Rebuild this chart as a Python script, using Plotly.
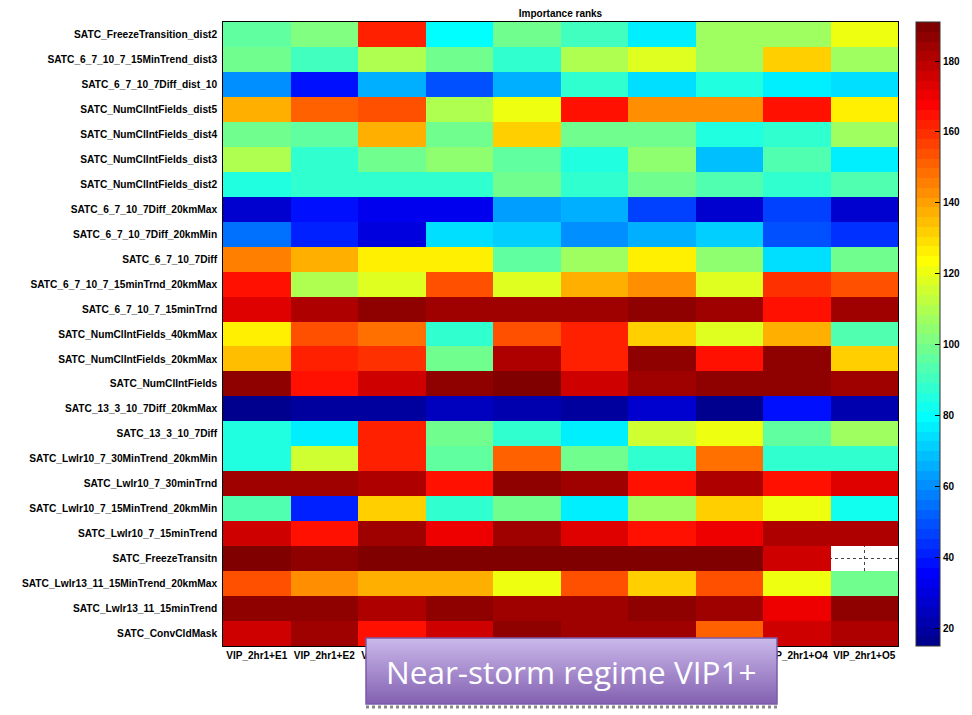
import numpy as np
import plotly.graph_objects as go

rows = [
    "SATC_FreezeTransition_dist2",
    "SATC_6_7_10_7_15MinTrend_dist3",
    "SATC_6_7_10_7Diff_dist_10",
    "SATC_NumClIntFields_dist5",
    "SATC_NumClIntFields_dist4",
    "SATC_NumClIntFields_dist3",
    "SATC_NumClIntFields_dist2",
    "SATC_6_7_10_7Diff_20kmMax",
    "SATC_6_7_10_7Diff_20kmMin",
    "SATC_6_7_10_7Diff",
    "SATC_6_7_10_7_15minTrnd_20kmMax",
    "SATC_6_7_10_7_15minTrnd",
    "SATC_NumClIntFields_40kmMax",
    "SATC_NumClIntFields_20kmMax",
    "SATC_NumClIntFields",
    "SATC_13_3_10_7Diff_20kmMax",
    "SATC_13_3_10_7Diff",
    "SATC_Lwlr10_7_30MinTrend_20kmMin",
    "SATC_Lwlr10_7_30minTrnd",
    "SATC_Lwlr10_7_15MinTrend_20kmMin",
    "SATC_Lwlr10_7_15minTrend",
    "SATC_FreezeTransitn",
    "SATC_Lwlr13_11_15MinTrend_20kmMax",
    "SATC_Lwlr13_11_15minTrend",
    "SATC_ConvCldMask",
]

cols = ["VIP_2hr1+E1", "VIP_2hr1+E2", "VIP_2hr1+E3", "VIP_2hr1+E4", "VIP_2hr1+E5",
        "VIP_2hr1+O1", "VIP_2hr1+O2", "VIP_2hr1+O3", "VIP_2hr1+O4", "VIP_2hr1+O5"]

ranks = [
    [96, 101, 161, 80, 98, 91, 78, 108, 107, 119.5],
    [100, 91, 111, 100, 89, 111, 117, 108, 131, 106],
    [59, 38, 65, 50, 65, 86.5, 73, 84, 76, 73],
    [138, 151, 152.5, 111, 119.5, 166, 144, 141.5, 166, 127],
    [100, 96, 136, 100, 133, 100, 99, 84, 89, 108],
    [111, 89, 97.5, 103, 97, 84, 104, 68, 93, 76],
    [84, 86.5, 89, 89, 100, 86.5, 97.5, 92, 86.5, 92],
    [27, 37, 34, 33, 62, 65, 47, 26, 47, 28],
    [54, 42, 31, 73, 70, 59, 65, 70, 50, 45],
    [145, 136, 125, 125, 96, 106, 127, 103, 73, 97.5],
    [166, 110, 118, 152.5, 117, 138, 144, 117, 158, 152.5],
    [172, 180, 188, 183, 183, 183, 185.5, 183, 163.5, 183],
    [125, 155, 147, 89, 155, 161, 130.5, 117, 138, 93],
    [134.5, 161, 158, 100, 180, 161, 185.5, 163.5, 185.5, 130.5],
    [188, 163.5, 177, 188, 191, 177, 183, 188, 185.5, 183],
    [16, 20, 20, 24, 21, 18, 26, 17, 37, 22],
    [84, 78, 161, 98, 89, 78, 114, 119.5, 96, 108],
    [84, 114, 161, 96, 150, 97.5, 86.5, 147, 86.5, 86.5],
    [183, 183, 180, 166, 188, 183, 163.5, 180, 166, 172],
    [92, 40, 130.5, 86.5, 98, 78, 106, 130.5, 119.5, 81],
    [177, 166, 183, 169, 183, 173, 166, 169, 180, 180],
    [191, 185.5, 191, 191, 191, 191, 191, 191, 177, None],
    [152.5, 141.5, 138, 138, 119.5, 152.5, 133, 155, 122, 97.5],
    [188, 185.5, 180, 185.5, 183, 183, 185.5, 183, 169, 185.5],
    [174.5, 183, 163.5, 174.5, 185.5, 183, 183, 150, 174.5, 180],
]

cbar_ticks = [20, 40, 60, 80, 100, 120, 140, 160, 180]
zmin, zmax = 15, 191
title_text = "Importance ranks"
banner_text = "Near-storm regime VIP1+"


def jet(t):
    r = min(max(min(4 * t - 1.5, -4 * t + 4.5), 0), 1)
    g = min(max(min(4 * t - 0.5, -4 * t + 3.5), 0), 1)
    b = min(max(min(4 * t + 0.5, -4 * t + 2.5), 0), 1)
    return "rgb(%d,%d,%d)" % (round(r * 255), round(g * 255), round(b * 255))


n = 64
colorscale = []
for i in range(n):
    c = jet((i + 1) / n)
    colorscale.append([i / n, c])
    colorscale.append([(i + 1) / n, c])

z = np.array([[np.nan if v is None else v for v in r] for r in ranks], dtype=float)

bold = dict(family="Liberation Sans", size=10, color="black", weight="bold")
bold_y = dict(family="Liberation Sans", size=10.2, color="black", weight="bold")

L, R, T, B = 223, 898, 22, 646
PW, PH = R - L, B - T

fig = go.Figure(go.Heatmap(
    z=z, x=cols, y=rows, colorscale=colorscale, zmin=zmin, zmax=zmax,
    hoverongaps=False,
    colorbar=dict(
        x=(916 - L) / PW, xanchor="left", xpad=0, ypad=0,
        y=0.5, yanchor="middle", len=1, lenmode="fraction",
        thickness=24, outlinewidth=1, outlinecolor="#333",
        tickvals=cbar_ticks, ticks="inside", ticklen=5, tickcolor="black",
        tickfont=bold,
    ),
))

fig.update_layout(
    width=972, height=715,
    margin=dict(l=L, r=972 - R, t=T, b=715 - B, autoexpand=False),
    paper_bgcolor="white", plot_bgcolor="white",
    title=dict(text=title_text, x=(L + R) / 2 / 972, xanchor="center",
               y=1 - 13 / 715, yanchor="middle", font=bold),
    xaxis=dict(showgrid=True, gridcolor="#444", griddash="dot", gridwidth=1,
               tickfont=bold, ticks="", showline=True, linecolor="black",
               linewidth=1, mirror=True, zeroline=False, side="bottom"),
    yaxis=dict(showgrid=True, gridcolor="#444", griddash="dot", gridwidth=1,
               tickfont=bold_y, ticks="", autorange="reversed", showline=True,
               linecolor="black", linewidth=1, mirror=True, zeroline=False,
               ticksuffix=" "),
)

# Banner overlay with a vertical purple gradient
x0, x1, y0, y1 = 366, 777, 638, 704
steps = 33
top = np.array([202, 184, 234])
bot = np.array([132, 98, 178])
for i in range(steps):
    f = i / (steps - 1)
    c = top * (1 - f) + bot * f
    ya = y0 + (y1 - y0) * i / steps
    yb = y0 + (y1 - y0) * (i + 1) / steps
    fig.add_shape(type="rect", xref="paper", yref="paper",
                  x0=(x0 - L) / PW, x1=(x1 - L) / PW,
                  y0=(B - yb) / PH, y1=(B - ya) / PH,
                  line=dict(width=0),
                  fillcolor="rgb(%d,%d,%d)" % tuple(int(v) for v in c))
fig.add_shape(type="rect", xref="paper", yref="paper",
              x0=(x0 - L) / PW, x1=(x1 - L) / PW,
              y0=(B - y1) / PH, y1=(B - y0) / PH,
              line=dict(width=1.5, color="#7a5aa8"), fillcolor="rgba(0,0,0,0)")
fig.add_shape(type="line", xref="paper", yref="paper",
              x0=(x0 - L) / PW, x1=(x1 - L) / PW,
              y0=(B - 707) / PH, y1=(B - 707) / PH,
              line=dict(width=3, color="#888", dash="dot"))
fig.add_annotation(xref="paper", yref="paper",
                   x=((x0 + x1) / 2 - L) / PW, y=(B - (y0 + y1) / 2) / PH,
                   text=banner_text, showarrow=False,
                   font=dict(family="Open Sans", size=31.5, color="white"),
                   xanchor="center", yanchor="middle")

fig.write_html("out.html", config={"displayModeBar": False},
               post_script="document.body.style.margin='0px';document.body.style.overflow='hidden';")
